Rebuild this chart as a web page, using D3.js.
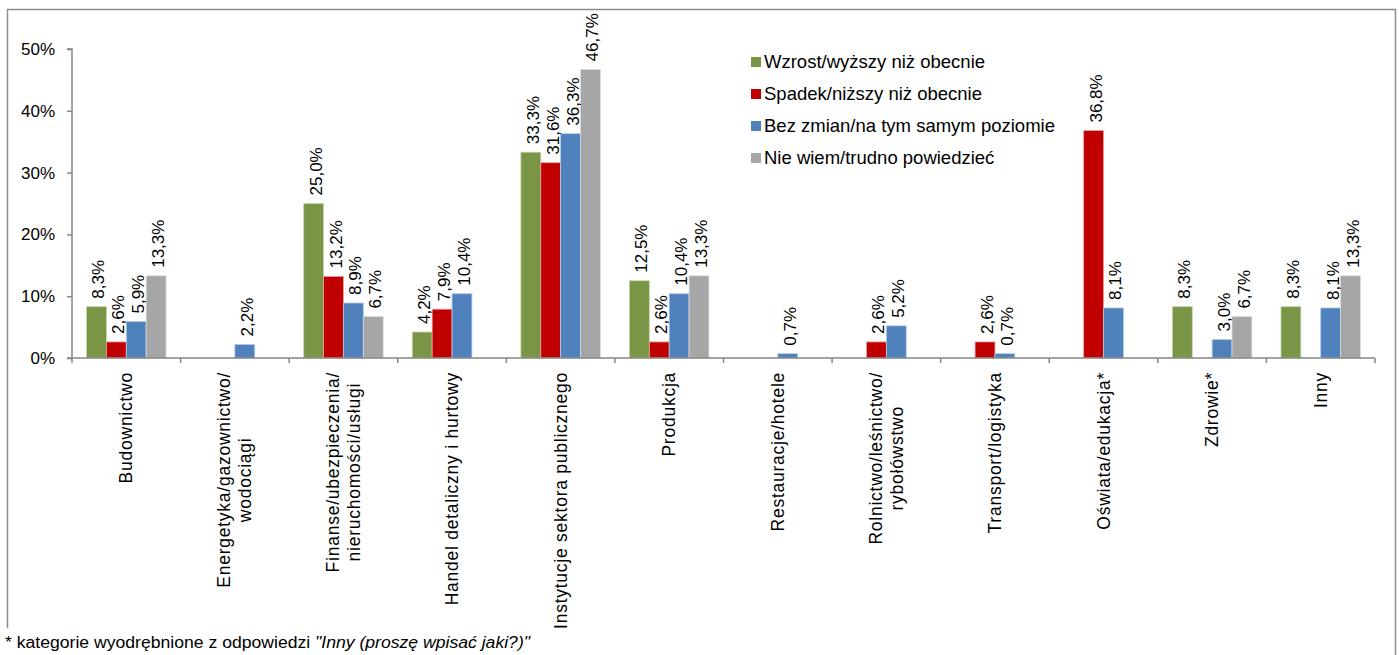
<html lang="pl">
  <head>
    <meta charset="UTF-8" />
    <title>Chart</title>
    <script src="https://d3js.org/d3.v7.min.js"></script>
    <style>
      * {
        margin: 0;
        padding: 0;
      }
      body {
        background: #fff;
      }
      text {
        font-family: "Liberation Sans", Arial, sans-serif;
        fill: #000;
      }
    </style>
  </head>
  <body>
    <div id="svgContainer"></div>
    <script>
      // categories (lines of each label)
      let categories = [
        ["Budownictwo"],
        ["Energetyka/gazownictwo/", "wodociągi"],
        ["Finanse/ubezpieczenia/", "nieruchomości/usługi"],
        ["Handel detaliczny i hurtowy"],
        ["Instytucje sektora publicznego"],
        ["Produkcja"],
        ["Restauracje/hotele"],
        ["Rolnictwo/leśnictwo/", "rybołówstwo"],
        ["Transport/logistyka"],
        ["Oświata/edukacja*"],
        ["Zdrowie*"],
        ["Inny"],
      ];

      let seriesNames = [
        "Wzrost/wyższy niż obecnie",
        "Spadek/niższy niż obecnie",
        "Bez zmian/na tym samym poziomie",
        "Nie wiem/trudno powiedzieć",
      ];

      let wzrost = [8.3, null, 25.0, 4.2, 33.3, 12.5, null, null, null, null, 8.3, 8.3];
      let spadek = [2.6, null, 13.2, 7.9, 31.6, 2.6, null, 2.6, 2.6, 36.8, null, null];
      let bezZmian = [5.9, 2.2, 8.9, 10.4, 36.3, 10.4, 0.7, 5.2, 0.7, 8.1, 3.0, 8.1];
      let nieWiem = [13.3, null, 6.7, null, 46.7, 13.3, null, null, null, null, 6.7, 13.3];

      let yTicks = [0, 10, 20, 30, 40, 50];

      let colors = ["#7A9545", "#C00000", "#4F81BD", "#A6A6A6"];
      let strokes = ["#c5d5a8", "#e8a0a0", "#b5cbe6", "#dcdcdc"];

      let width = 1399;
      let height = 655;

      const MARGIN = { left: 72, right: 24, top: 49, bottom: 297 };

      let svg = d3
        .select("#svgContainer")
        .append("svg")
        .attr("width", width)
        .attr("height", height);

      // outer frame
      svg
        .append("rect")
        .attr("x", 7.5)
        .attr("y", 9.5)
        .attr("width", 1388)
        .attr("height", 660)
        .attr("fill", "none")
        .attr("stroke", "#8c8c8c")
        .attr("stroke-width", 1.5);

      let scaleX = d3
        .scaleBand()
        .domain(d3.range(categories.length))
        .range([MARGIN.left, width - MARGIN.right])
        .padding(0);

      let bw = scaleX.bandwidth();
      let pad = bw * 0.134;

      let scaleX1 = d3
        .scaleBand()
        .domain(d3.range(seriesNames.length))
        .range([pad, bw - pad])
        .padding(0);

      let scaleY = d3
        .scaleLinear()
        .domain([0, 50])
        .range([height - MARGIN.bottom, MARGIN.top]);

      // y axis
      let axisLeft = d3
        .axisLeft(scaleY)
        .tickValues(yTicks)
        .tickSize(5)
        .tickPadding(12)
        .tickFormat((d) => d + "%");

      let gy = svg
        .append("g")
        .attr("transform", `translate(${MARGIN.left}, 0)`)
        .call(axisLeft);
      gy.selectAll("path, line").attr("stroke", "#868686").attr("stroke-width", 1.5);
      gy.select(".domain").attr("d", `M-5,${scaleY(50)}H0V${scaleY(0)}H-5`);
      gy.selectAll("text")
        .style("font-family", '"Liberation Sans", Arial, sans-serif')
        .style("font-size", "17px")
        .attr("fill", "#000");

      // bars
      let allSeries = [wzrost, spadek, bezZmian, nieWiem];
      let barData = [];
      allSeries.forEach((s, si) => {
        s.forEach((v, ci) => {
          if (v !== null) barData.push({ ci: ci, si: si, v: v });
        });
      });

      svg
        .append("g")
        .selectAll("rect")
        .data(barData)
        .join("rect")
        .attr("x", (d) => scaleX(d.ci) + scaleX1(d.si))
        .attr("y", (d) => scaleY(d.v))
        .attr("width", scaleX1.bandwidth())
        .attr("height", (d) => scaleY(0) - scaleY(d.v))
        .attr("fill", (d) => colors[d.si])
        .attr("stroke", (d) => strokes[d.si])
        .attr("stroke-width", 0.8);

      // value labels
      svg
        .append("g")
        .selectAll("text")
        .data(barData)
        .join("text")
        .attr("transform", (d) => {
          let cx = scaleX(d.ci) + scaleX1(d.si) + scaleX1.bandwidth() / 2;
          return `translate(${cx + 8}, ${scaleY(d.v) - 8}) rotate(-90)`;
        })
        .style("font-size", "17px")
        .text((d) => d.v.toFixed(1).replace(".", ",") + "%");

      // x axis
      let baseY = scaleY(0);
      let gx = svg.append("g");
      gx.append("line")
        .attr("x1", MARGIN.left)
        .attr("x2", width - MARGIN.right)
        .attr("y1", baseY)
        .attr("y2", baseY)
        .attr("stroke", "#868686")
        .attr("stroke-width", 1.5);
      gx.selectAll("line.tick")
        .data(d3.range(categories.length + 1))
        .join("line")
        .attr("class", "tick")
        .attr("x1", (d) => MARGIN.left + d * bw)
        .attr("x2", (d) => MARGIN.left + d * bw)
        .attr("y1", baseY)
        .attr("y2", baseY + 5)
        .attr("stroke", "#868686")
        .attr("stroke-width", 1.5);

      // category labels
      categories.forEach((lines, ci) => {
        let cx = scaleX(ci) + bw / 2;
        let lg = svg.append("g");
        let texts = lines.map((l) =>
          lg
            .append("text")
            .style("font-size", "17.5px")
            .style("letter-spacing", "0.75px")
            .attr("text-anchor", "middle")
            .text(l)
        );
        let maxLen = d3.max(texts, (t) => t.node().getComputedTextLength());
        texts.forEach((t, i) => {
          let off = 6 + (i - (lines.length - 1) / 2) * 21;
          t.attr("transform", `translate(${cx + off}, ${baseY + 14 + maxLen / 2}) rotate(-90)`);
        });
      });

      // legend
      let legend = svg.append("g").attr("transform", "translate(751, 57)");
      seriesNames.forEach((name, i) => {
        legend
          .append("rect")
          .attr("x", 0)
          .attr("y", i * 32)
          .attr("width", 10)
          .attr("height", 10)
          .attr("fill", colors[i]);
        legend
          .append("text")
          .attr("x", 13)
          .attr("y", i * 32 + 11)
          .style("font-size", "18.5px")
          .text(name);
      });

      // footnote
      svg
        .append("rect")
        .attr("x", 0)
        .attr("y", 628)
        .attr("width", 540)
        .attr("height", 27)
        .attr("fill", "#fff");
      let foot = svg
        .append("text")
        .attr("x", 5)
        .attr("y", 648)
        .attr("textLength", 525)
        .attr("lengthAdjust", "spacingAndGlyphs")
        .style("font-family", '"Liberation Sans Narrow", "Arial Narrow", "Liberation Sans", sans-serif')
        .style("font-size", "16px");
      foot.append("tspan").text("* kategorie wyodrębnione z odpowiedzi ");
      foot.append("tspan").style("font-style", "italic").text('"Inny (proszę wpisać jaki?)"');
    </script>
  </body>
</html>
